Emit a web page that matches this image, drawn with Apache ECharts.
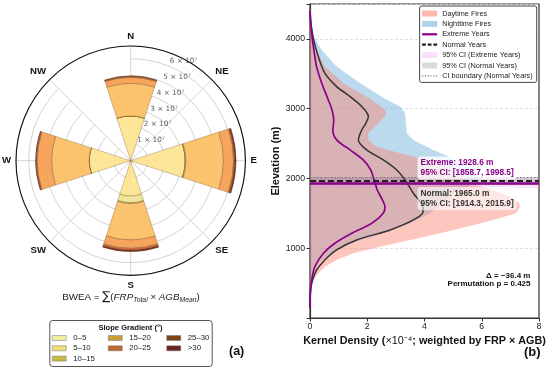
<!DOCTYPE html>
<html><head><meta charset="utf-8">
<script src="https://cdn.jsdelivr.net/npm/echarts@6/dist/echarts.min.js"></script>
<style>html,body{margin:0;padding:0;background:#fff}#c{width:550px;height:371px}</style>
</head><body><div id="c"></div>
<script>
// ---------- Panel (a): polar stacked bars ----------
const directions = ['N','NE','E','SE','S','SW','W','NW'];
const slopeClasses = ['0–5','5–10','10–15','15–20','20–25','25–30','>30'];
const slope0_5   = [2.63e7, 0, 3.20e7, 0, 2.08e7, 0, 2.44e7, 0];
const slope5_10  = [0, 0, 0, 0, 0.39e7, 0, 0, 0];
const slope10_15 = [0, 0, 0.05e7, 0, 0.05e7, 0, 0, 0];
const slope15_20 = [1.92e7, 0, 2.20e7, 0, 2.14e7, 0, 2.21e7, 0];
const slope20_25 = [0.35e7, 0, 0.60e7, 0, 0.49e7, 0, 0.85e7, 0];
const slope25_30 = [0.05e7, 0, 0.05e7, 0, 0.10e7, 0, 0.05e7, 0];
const slope30p   = [0.05e7, 0, 0.10e7, 0, 0.10e7, 0, 0.05e7, 0];
const radialTicks = [1e7, 2e7, 3e7, 4e7, 5e7, 6e7];
const radialTickLabels = ['1 × 10⁷','2 × 10⁷','3 × 10⁷','4 × 10⁷','5 × 10⁷','6 × 10⁷'];
const radialMax = 6.75e7;

// ---------- Panel (b): elevation kernel densities (density ×1e-4, elevation m) ----------
const dayElev  = [4450,4200,4000,3842,3603,3365,3125,2982,2910,2790,2648,2552,2456,2361,2265,2170,2026,1930,1850,1739,1650,1596,1500,1405,1309,1214,1118,1022,928,832,736,641,545,400,200,50];
const dayDens  = [0,0.04,0.10,0.23,0.52,1.17,2.16,2.62,2.66,2.39,2.04,2.04,2.33,3.15,4.08,4.90,5.35,5.60,6.30,7.00,7.30,7.34,7.20,6.40,5.48,4.55,3.50,2.45,1.51,0.93,0.52,0.29,0.12,0.03,0.005,0];
const nightElev = [4450,4200,4000,3842,3603,3365,3125,3030,2934,2743,2648,2552,2409,2265,2122,2000,1930,1880,1788,1600,1500,1357,1214,1071,928,785,640,500,300,100];
const nightDens = [0,0.05,0.17,0.41,0.93,1.75,2.70,3.15,3.32,3.36,3.38,3.61,4.31,5.13,5.71,5.90,5.80,5.50,5.00,4.50,4.20,3.50,2.56,1.40,0.76,0.30,0.10,0.03,0.005,0];
const extremeElev = [4400,4200,4000,3800,3600,3365,3125,2982,2839,2695,2552,2409,2265,2122,1978,1835,1700,1596,1500,1357,1214,1071,928,736,545,354,150];
const extremeDens = [0,0.03,0.08,0.15,0.23,0.41,0.64,0.77,0.83,0.80,0.93,1.40,1.86,2.12,2.24,2.35,2.52,2.62,2.56,2.16,1.46,0.87,0.47,0.17,0.06,0.01,0];
const normalElev = [4400,4200,4000,3746,3508,3316,3173,3030,2886,2790,2695,2552,2409,2265,2122,1978,1788,1596,1524,1405,1262,1118,975,832,688,545,400,150];
const normalDens = [0,0.04,0.12,0.29,0.52,0.93,1.40,1.81,2.04,1.95,1.81,1.69,1.98,2.56,3.03,3.32,3.61,3.94,3.95,3.61,2.80,1.63,0.93,0.52,0.23,0.09,0.02,0];
const extremeMean = 1928.6, extremeCI = [1858.7, 1998.5];
const normalMean = 1965.0, normalCI = [1914.3, 2015.9];
const deltaMean = -36.4, permP = 0.425;
const xTicks = [0,2,4,6,8];
const yTicks = [1000,2000,3000,4000];

// ---------- styles ----------
const barColors = ['#fde38c','#efe290','#d8c458','#fcbd5f','#f69a4b','#d9622c','#6b1e0e'];
const legendColors = ['#f2ee9e','#eedc78','#c8bb44','#cc9c36','#bf6a2c','#7e4216','#6e2424'];
const slopeData = [slope0_5, slope5_10, slope10_15, slope15_20, slope20_25, slope25_30, slope30p];
const FONT = 'Liberation Sans, Arial, sans-serif';
const DAY = 'rgba(250,128,114,0.45)', NIGHT = 'rgba(107,174,214,0.45)';
const PURPLE = '#8B008B';

const lineIcon = 'path://M0,0H20V3H0Z';
const dashIcon = 'path://M0,0H5V3H0Z M7.5,0H12.5V3H7.5Z M15,0H20V3H15Z';
const dotIcon = 'path://M0,0H1.5V1.5H0Z M3.5,0H5V1.5H3.5Z M7,0H8.5V1.5H7Z M10.5,0H12V1.5H10.5Z M14,0H15.5V1.5H14Z M17.5,0H19V1.5H17.5Z';

function polygonSeries(name, dens, elev, color) {
  const pts = dens.map((d, i) => [d, elev[i]]);
  return {
    name, type: 'custom', coordinateSystem: 'cartesian2d', xAxisIndex: 0, yAxisIndex: 0,
    data: pts, clip: true, z: 1, silent: true, itemStyle: {color},
    encode: {x: 0, y: 1},
    renderItem: (params, api) => {
      if (params.dataIndex !== 0) return null;
      return {type: 'polygon', shape: {points: pts.map(p => api.coord(p))}, style: {fill: color}};
    }
  };
}

const series = [];
slopeClasses.forEach((name, k) => {
  series.push({
    name, type: 'bar', coordinateSystem: 'polar', polarIndex: 0, stack: 'slope',
    data: slopeData[k], barCategoryGap: '20%', silent: true,
    itemStyle: {color: barColors[k], opacity: 0.9, borderColor: 'rgba(95,65,25,0.55)', borderWidth: 0.6}
  });
});
series.push({
  type: 'scatter', coordinateSystem: 'polar', polarIndex: 1, symbolSize: 0, silent: true,
  data: radialTicks.map(v => [v, 22.5]),
  label: {show: true, position: 'right', distance: 0, offset: [0, -5],
    formatter: p => radialTickLabels[p.dataIndex], fontFamily: 'DejaVu Sans', fontSize: 7.3, color: '#333'}
});

series.push(polygonSeries('Nighttime Fires', nightDens, nightElev, NIGHT));
series.push(polygonSeries('Daytime Fires', dayDens, dayElev, DAY));
series.push({
  name: '95% CI (Extreme Years)', type: 'line', data: [], itemStyle: {color: 'rgba(238,130,238,0.3)'},
  markArea: {silent: true, z: 2, itemStyle: {color: 'rgba(238,130,238,0.22)'},
    data: [[{yAxis: extremeCI[0]}, {yAxis: extremeCI[1]}]]}
});
series.push({
  name: '95% CI (Normal Years)', type: 'line', data: [], itemStyle: {color: 'rgba(140,140,140,0.35)'},
  markArea: {silent: true, z: 2, itemStyle: {color: 'rgba(128,128,128,0.3)'},
    data: [[{yAxis: normalCI[0]}, {yAxis: normalCI[1]}]]}
});
series.push({
  name: 'CI boundary (Normal Years)', type: 'line', data: [], itemStyle: {color: '#777'},
  markLine: {silent: true, symbol: ['none','none'], label: {show: false},
    lineStyle: {color: '#777', width: 1, type: [1.5, 2]},
    data: normalCI.map(v => ({yAxis: v}))}
});
series.push({
  name: 'Normal Years', type: 'line', z: 4, smooth: 0.3, showSymbol: false, silent: true,
  data: normalDens.map((d, i) => [d, normalElev[i]]),
  lineStyle: {color: '#333', width: 1.5}, itemStyle: {color: '#333'},
  markLine: {silent: true, symbol: ['none','none'], label: {show: false},
    lineStyle: {color: '#222', width: 2, type: [6, 3]}, data: [{yAxis: normalMean}]},
  markPoint: {silent: true, symbol: 'circle', symbolSize: 1, itemStyle: {color: 'transparent'},
    data: [
      {coord: [3.74, 1710], label: {show: true, position: 'right', distance: 0,
        formatter: 'Normal: ' + normalMean.toFixed(1) + ' m\n95% CI: [' + normalCI[0].toFixed(1) + ', ' + normalCI[1].toFixed(1) + ']',
        fontFamily: FONT, fontWeight: 'bold', fontSize: 8.3, lineHeight: 9.6, color: '#333', align: 'left',
        backgroundColor: 'rgba(255,255,255,0.6)', padding: [2, 3], borderRadius: 3}},
      {coord: [7.72, 545], label: {show: true, position: 'left', distance: 0,
        formatter: 'Δ = ' + deltaMean.toFixed(1).replace('-', '−') + ' m\nPermutation p = ' + permP.toFixed(3),
        fontFamily: FONT, fontWeight: 'bold', fontSize: 8, lineHeight: 8.6, color: '#111', align: 'right'}}
    ]}
});
series.push({
  name: 'Extreme Years', type: 'line', z: 4, smooth: 0.3, showSymbol: false, silent: true,
  data: extremeDens.map((d, i) => [d, extremeElev[i]]),
  lineStyle: {color: PURPLE, width: 1.7}, itemStyle: {color: PURPLE},
  markLine: {silent: true, symbol: ['none','none'], label: {show: false},
    lineStyle: {color: PURPLE, width: 2.5, type: 'solid'}, data: [{yAxis: extremeMean}]},
  markPoint: {silent: true, symbol: 'circle', symbolSize: 1, itemStyle: {color: 'transparent'},
    data: [
      {coord: [3.74, 2150], label: {show: true, position: 'right', distance: 0,
        formatter: 'Extreme: ' + extremeMean.toFixed(1) + ' m\n95% CI: [' + extremeCI[0].toFixed(1) + ', ' + extremeCI[1].toFixed(1) + ']',
        fontFamily: FONT, fontWeight: 'bold', fontSize: 8.3, lineHeight: 9.6, color: PURPLE, align: 'left',
        backgroundColor: 'rgba(255,255,255,0.8)', padding: [2, 3], borderRadius: 3}}
    ]}
});

const slopeLegend = (names, left) => ({
  orient: 'vertical', left, top: 333, padding: 0, itemGap: 0.3, itemWidth: 14, itemHeight: 5,
  selectedMode: false,
  textStyle: {fontFamily: FONT, fontSize: 7.8, color: '#222', lineHeight: 10, padding: [0, 0, 0, 2]},
  data: names.map(n => ({name: n, icon: 'rect',
    itemStyle: {color: legendColors[slopeClasses.indexOf(n)], borderColor: '#777', borderWidth: 0.5, opacity: 1}}))
});

const option = {
  animation: false,
  backgroundColor: '#fff',
  title: [
    {text: '(a)', left: 229, top: 345, padding: 0, textStyle: {fontFamily: FONT, fontSize: 12.5, fontWeight: 'bold', color: '#111'}},
    {text: '(b)', left: 524, top: 346, padding: 0, textStyle: {fontFamily: FONT, fontSize: 13, fontWeight: 'bold', color: '#111'}}
  ],
  polar: [
    {center: [130.7, 160.7], radius: 114.7},
    {center: [130.7, 160.7], radius: 114.7}
  ],
  angleAxis: [
    {polarIndex: 0, type: 'category', data: directions, boundaryGap: false, startAngle: 90, clockwise: true,
      axisLine: {show: false}, axisTick: {show: false},
      axisLabel: {fontFamily: FONT, fontWeight: 'bold', fontSize: 9.6, color: '#111', margin: 5},
      splitLine: {show: true, lineStyle: {color: '#c8c8c8', width: 0.8}}},
    {polarIndex: 1, type: 'value', min: 0, max: 360, startAngle: 90, clockwise: true,
      axisLine: {show: true, lineStyle: {color: '#111', width: 1.1}}, axisTick: {show: false},
      axisLabel: {show: false}, splitLine: {show: false}}
  ],
  radiusAxis: [
    {polarIndex: 0, type: 'value', min: 0, max: radialMax, interval: 1e7,
      axisLine: {show: false}, axisTick: {show: false}, axisLabel: {show: false},
      splitLine: {show: true, lineStyle: {color: '#c8c8c8', width: 0.8}}},
    {polarIndex: 1, type: 'value', min: 0, max: radialMax, show: false,
      axisLine: {show: false}, axisTick: {show: false}, axisLabel: {show: false}, splitLine: {show: false}}
  ],
  grid: {left: 310, top: 4, width: 229, height: 314, show: true, borderColor: '#333', borderWidth: 1.2, backgroundColor: 'transparent'},
  xAxis: {type: 'value', min: xTicks[0], max: xTicks[xTicks.length - 1], interval: 2,
    axisLine: {show: true, lineStyle: {color: '#333', width: 1.2}},
    axisTick: {show: true, length: 3.5, lineStyle: {color: '#333'}},
    axisLabel: {fontFamily: FONT, fontSize: 8.7, color: '#222', margin: 4},
    splitLine: {show: false},
    name: '{b|Kernel Density (}{m|×10⁻⁴}{b|; weighted by FRP × AGB)}', nameLocation: 'middle', nameGap: 13,
    nameTextStyle: {rich: {
      b: {fontFamily: FONT, fontWeight: 'bold', fontSize: 10.8, color: '#111'},
      m: {fontFamily: FONT, fontWeight: 'normal', fontSize: 10.8, color: '#111'}}}},
  yAxis: {type: 'value', min: 0, max: 4500, interval: 1000,
    axisLine: {show: true, lineStyle: {color: '#333', width: 1.2}},
    axisTick: {show: true, length: 3.5, lineStyle: {color: '#333'}},
    axisLabel: {fontFamily: FONT, fontSize: 8.7, color: '#222', margin: 5,
      formatter: v => yTicks.includes(v) ? String(v) : ''},
    splitLine: {show: true, lineStyle: {color: '#d8d8d8', width: 0.8, type: [3, 2]}},
    name: 'Elevation (m)', nameLocation: 'middle', nameGap: 21,
    nameTextStyle: {fontFamily: FONT, fontWeight: 'bold', fontSize: 11, color: '#111'}},
  legend: [
    slopeLegend(['0–5','5–10','10–15'], 52),
    slopeLegend(['15–20','20–25'], 108),
    slopeLegend(['25–30','>30'], 166.5),
    {orient: 'vertical', right: 13.3, top: 6, padding: [3, 4, 2, 2.5], itemGap: 1.4, itemWidth: 15, itemHeight: 6,
      selectedMode: false, backgroundColor: '#fff', borderColor: '#444', borderWidth: 1, borderRadius: 2,
      textStyle: {fontFamily: FONT, fontSize: 7.3, color: '#222', lineHeight: 9},
      data: [
        {name: 'Daytime Fires', icon: 'rect', itemStyle: {color: 'rgba(250,128,114,0.55)', borderWidth: 0}},
        {name: 'Nighttime Fires', icon: 'rect', itemStyle: {color: 'rgba(107,174,214,0.55)', borderWidth: 0}},
        {name: 'Extreme Years', icon: lineIcon, itemStyle: {color: PURPLE, borderWidth: 0}},
        {name: 'Normal Years', icon: dashIcon, itemStyle: {color: '#222', borderWidth: 0}},
        {name: '95% CI (Extreme Years)', icon: 'rect', itemStyle: {color: 'rgba(238,130,238,0.25)', borderWidth: 0}},
        {name: '95% CI (Normal Years)', icon: 'rect', itemStyle: {color: 'rgba(150,150,150,0.35)', borderWidth: 0}},
        {name: 'CI boundary (Normal Years)', icon: dotIcon, itemStyle: {color: '#777', borderWidth: 0}}
      ]}
  ],
  graphic: [
    {type: 'rect', left: 49.3, top: 320, z: 1, silent: true,
      shape: {width: 162.4, height: 46, r: 3}, style: {fill: '#fff', stroke: '#555', lineWidth: 1}},
    {type: 'text', x: 130.5, y: 328.3, z: 5, silent: true,
      style: {text: 'Slope Gradient (°)', font: 'bold 7.6px Liberation Sans, Arial, sans-serif', fill: '#111',
        textAlign: 'center', textVerticalAlign: 'middle'}},
    {type: 'text', x: 131, y: 297, z: 5, silent: true,
      style: {text: '{n|BWEA = }{g|∑}{n|(}{i|FRP}{s|Total}{n| × }{i|AGB}{s|Mean}{n|)}',
        textAlign: 'center', textVerticalAlign: 'middle',
        rich: {
          n: {fontFamily: FONT, fontSize: 9.8, fill: '#222'},
          g: {fontFamily: 'DejaVu Sans', fontSize: 12, fill: '#222'},
          i: {fontFamily: FONT, fontSize: 9.8, fontStyle: 'italic', fill: '#222'},
          s: {fontFamily: FONT, fontSize: 6.8, fontStyle: 'italic', fill: '#222', padding: [6, 0, 0, 0]}
        }}}
  ],
  series
};

const chart = echarts.init(document.getElementById('c'), null, {renderer: 'canvas'});
chart.setOption(option);
</script></body></html>
